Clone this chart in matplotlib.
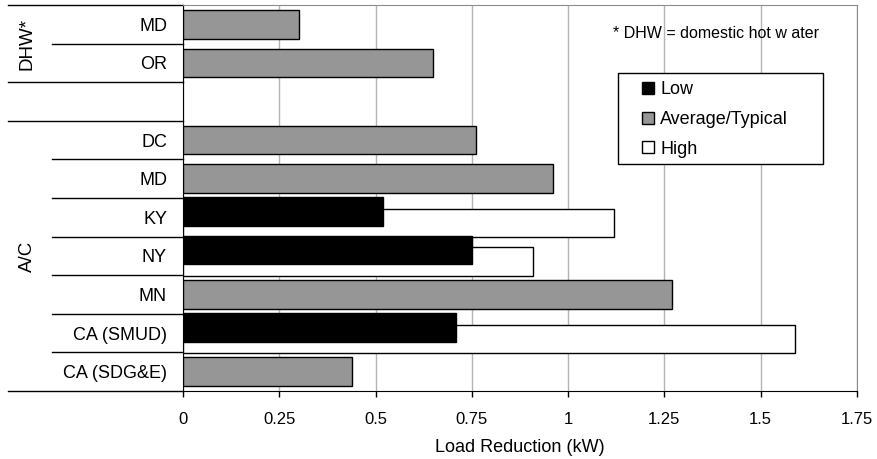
import matplotlib
matplotlib.use('Agg')
import matplotlib.pyplot as plt
from matplotlib.patches import Patch, Rectangle

plt.rcParams['font.family'] = ['Liberation Sans', 'DejaVu Sans']

# rows from top to bottom (blank row separates the two groups)
labels = ['MD', 'OR', '', 'DC', 'MD', 'KY', 'NY', 'MN', 'CA (SMUD)', 'CA (SDG&E)']
low = [None, None, None, None, None, 0.52, 0.75, None, 0.71, None]
average = [0.30, 0.65, None, 0.76, 0.96, None, None, 1.27, None, 0.44]
high = [None, None, None, None, None, 1.12, 0.91, None, 1.59, None]
groups = [('DHW*', 0, 1), ('A/C', 3, 9)]
xticks = [0, 0.25, 0.5, 0.75, 1, 1.25, 1.5, 1.75]
xticklabels = ['0', '0.25', '0.5', '0.75', '1', '1.25', '1.5', '1.75']

fig = plt.figure(figsize=(8.78, 4.59), dpi=100)
ax = fig.add_axes([183 / 878, 1 - 391 / 459, 674 / 878, 386 / 459])

bar_h = 0.74
shift = 0.15
pos = range(len(labels))

def draw(vals, off, color, z):
    ys = [p + off for p, v in zip(pos, vals) if v is not None]
    ws = [v for v in vals if v is not None]
    ax.barh(ys, ws, height=bar_h, color=color, edgecolor='black', linewidth=1.0, zorder=z)

draw(average, 0, '#969696', 3)
draw(high, shift, 'white', 3)
draw(low, -shift, 'black', 4)

ax.set_xlim(0, 1.75)
ax.set_ylim(len(labels) - 0.5, -0.5)
ax.set_xticks(xticks)
ax.set_xticklabels(xticklabels, fontsize=12)
ax.set_yticks(list(pos))
ax.set_yticklabels(labels, fontsize=13)
ax.tick_params(axis='y', length=0, pad=11.5)
ax.tick_params(axis='x', direction='out', length=4, width=1, pad=11)
ax.set_xlabel('Load Reduction (kW)', fontsize=13, labelpad=9)

ax.grid(axis='x', color='#b4b4b4', linewidth=1, zorder=0)
ax.set_axisbelow(True)
for s in ['top', 'right']:
    ax.spines[s].set_color('#8c8c8c')
for s in ['left', 'bottom']:
    ax.spines[s].set_color('black')

# category separators to the left of the axis
tr = ax.get_yaxis_transform()
long_x = (8 - 183) / 674
short_x = (52 - 183) / 674
bounds = [i - 0.5 for i in range(len(labels) + 1)]
group_edges = [-0.5, 1.5, 2.5, len(labels) - 0.5]
for b in bounds:
    x0 = long_x if b in group_edges else short_x
    ax.plot([x0, 0], [b, b], color='black', lw=1, transform=tr, clip_on=False)

gx = (27 - 183) / 674
for name, a, b in groups:
    ax.text(gx, (a + b) / 2, name, transform=tr, rotation=90, ha='center', va='center', fontsize=13.5)

ax.text(0.7915, 0.927, '* DHW = domestic hot w ater', transform=ax.transAxes,
        ha='center', va='center', fontsize=11.5)

# legend frame drawn separately so the inner padding matches
ax.add_patch(Rectangle((0.6454, 0.588), 0.304, 0.2358, transform=ax.transAxes,
                       facecolor='white', edgecolor='black', lw=1, zorder=5))
handles = [Patch(facecolor='black', edgecolor='black', label='Low'),
           Patch(facecolor='#969696', edgecolor='black', label='Average/Typical'),
           Patch(facecolor='white', edgecolor='black', label='High')]
leg = ax.legend(handles=handles, loc='upper left', bbox_to_anchor=(0.681, 0.802),
                fontsize=13, frameon=False, handlelength=0.65, handleheight=0.65,
                handletextpad=0.35, borderpad=0, labelspacing=0.7, borderaxespad=0)
leg.set_zorder(6)

fig.savefig('out.png', dpi=100)
